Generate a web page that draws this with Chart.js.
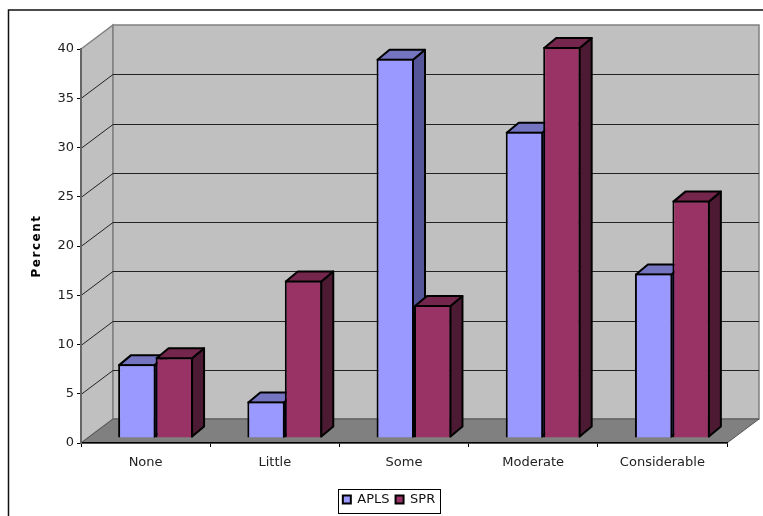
<!DOCTYPE html>
<html>
<head>
<meta charset="utf-8">
<title>Percent by category</title>
<style>
  html, body { margin: 0; padding: 0; background: #fff; }
  canvas { display: block; }
</style>
<script src="https://cdn.jsdelivr.net/npm/chart.js@4"></script>
</head>
<body>
<canvas id="chart" width="763" height="516"></canvas>
<script>
const categories = ['None', 'Little', 'Some', 'Moderate', 'Considerable']
const aplsValues = [7.5, 3.7, 38.5, 31.1, 16.7]
const sprValues = [8.2, 16, 13.5, 39.7, 24.1]

const fontFamily = '"DejaVu Sans", sans-serif'
const AREA_BOTTOM = 441
// depth of the box behind the axes, and of the bars inside it
const wallDx = 32, wallDy = 24
const barDx = 12, barDy = 10
const shiftX = 10, shiftY = 5

const sideColors = ['#555599', '#4d1a33']
const topColors = ['#7474c0', '#74264d']

const poly = (ctx, points, fill, stroke, lineWidth) => {
  ctx.beginPath()
  points.forEach((p, i) => i ? ctx.lineTo(p[0], p[1]) : ctx.moveTo(p[0], p[1]))
  ctx.closePath()
  if (fill) { ctx.fillStyle = fill; ctx.fill() }
  if (stroke) { ctx.strokeStyle = stroke; ctx.lineWidth = lineWidth; ctx.stroke() }
}

// top and side faces of one dataset's bars
const drawFaces = (chart, index) => {
  const { ctx } = chart
  chart.getDatasetMeta(index).data.forEach(bar => {
    const l = bar.x - bar.width / 2 + 1, r = bar.x + bar.width / 2 - 1
    const t = bar.y + 1, b = bar.base - 1
    poly(ctx, [[r, t], [r + barDx, t - barDy], [r + barDx, b - barDy], [r, b]], sideColors[index], '#000', 2)
    poly(ctx, [[l, t], [l + barDx, t - barDy], [r + barDx, t - barDy], [r, t]], topColors[index], '#000', 2)
  })
}

const box3d = {
  id: 'box3d',
  afterLayout(chart) {
    // nudge the legend into its frame, under the middle of the outer frame
    chart.legend.left += 17.5
    chart.legend.right += 17.5
    chart.legend.top += 2
    chart.legend.bottom += 2
    // the axis title is letterspaced
    const y = chart.scales.y
    const drawTitle = y.drawTitle
    y.drawTitle = function () {
      chart.ctx.letterSpacing = '1.5px'
      drawTitle.call(this)
      chart.ctx.letterSpacing = '0px'
    }
  },
  beforeDraw(chart) {
    const { ctx, chartArea: a, scales } = chart
    const y = scales.y
    ctx.save()
    // outer frame, open on the right and bottom
    ctx.strokeStyle = '#111'
    ctx.lineWidth = 1.5
    ctx.beginPath()
    ctx.moveTo(8.5, 516)
    ctx.lineTo(8.5, 10)
    ctx.lineTo(763, 10)
    ctx.stroke()

    const top = a.top, bot = a.bottom
    // side wall, back wall, floor
    poly(ctx, [[a.left, top], [a.left + wallDx, top - wallDy], [a.left + wallDx, bot - wallDy], [a.left, bot]], '#c0c0c0', '#808080', 1.5)
    poly(ctx, [[a.left + wallDx, top - wallDy], [a.right + wallDx, top - wallDy], [a.right + wallDx, bot - wallDy], [a.left + wallDx, bot - wallDy]], '#c0c0c0', '#808080', 1.5)
    poly(ctx, [[a.left, bot], [a.left + wallDx, bot - wallDy], [a.right + wallDx, bot - wallDy], [a.right, bot]], '#808080', '#555', 1)

    // gridlines wrap around the side wall and the back wall
    y.ticks.forEach(t => {
      if (t.value === y.min || t.value === y.max) return
      const py = Math.round(y.getPixelForValue(t.value)) + 0.5
      ctx.strokeStyle = '#222'
      ctx.lineWidth = 1
      ctx.beginPath()
      ctx.moveTo(a.left, py)
      ctx.lineTo(a.left + wallDx, py - wallDy)
      ctx.lineTo(a.right + wallDx, py - wallDy)
      ctx.stroke()
    })
    ctx.restore()
  },
  // Chart.js paints the last dataset first, so APLS faces go under everything
  // and SPR faces go on top once the front faces are done
  beforeDatasetsDraw(chart) {
    const { ctx } = chart
    ctx.save()
    ctx.translate(shiftX, -shiftY)
    ctx.lineJoin = 'round'
    drawFaces(chart, 0)
  },
  afterDatasetsDraw(chart) {
    drawFaces(chart, 1)
    chart.ctx.restore()
  },
  afterDraw(chart) {
    // legend frame
    const { ctx } = chart
    ctx.save()
    ctx.strokeStyle = '#000'
    ctx.lineWidth = 1
    ctx.strokeRect(338.5, 489.5, 102, 24)
    ctx.restore()
  }
}

new Chart(document.getElementById('chart'), {
  type: 'bar',
  data: {
    labels: categories,
    datasets: [
      { label: 'APLS', data: aplsValues, backgroundColor: '#9999ff' },
      { label: 'SPR', data: sprValues, backgroundColor: '#993366' }
    ]
  },
  options: {
    responsive: false,
    animation: false,
    clip: false,
    layout: { padding: { left: 16, right: 36, top: 49, bottom: 2 } },
    datasets: {
      bar: { categoryPercentage: 0.58, barPercentage: 1, borderColor: '#000', borderWidth: 2 }
    },
    plugins: {
      tooltip: { enabled: false },
      legend: {
        position: 'bottom',
        labels: {
          boxWidth: 8,
          boxHeight: 8,
          padding: 6,
          color: '#111',
          font: { family: fontFamily, size: 13 }
        }
      }
    },
    scales: {
      x: {
        grid: { drawOnChartArea: false, tickLength: 4, tickColor: '#000', tickWidth: 1 },
        border: { color: '#000', width: 1.5 },
        ticks: { color: '#222', padding: 8, maxRotation: 0, font: { family: fontFamily, size: 13 } },
        afterFit(scale) { scale.height = 516 - AREA_BOTTOM - 4 - scale.chart.legend.height }
      },
      y: {
        min: 0,
        max: 40,
        grid: { drawOnChartArea: false, tickLength: 4, tickColor: '#000', tickWidth: 1 },
        border: { color: '#666', width: 2 },
        ticks: { stepSize: 5, color: '#222', padding: 3, font: { family: fontFamily, size: 13 } },
        title: {
          display: true,
          text: 'Percent',
          color: '#000',
          padding: { top: 14, bottom: 0 },
          font: { family: fontFamily, size: 12, weight: 'bold' }
        },
        afterFit(scale) { scale.width = 65 }
      }
    }
  },
  plugins: [box3d]
})
</script>
</body>
</html>
